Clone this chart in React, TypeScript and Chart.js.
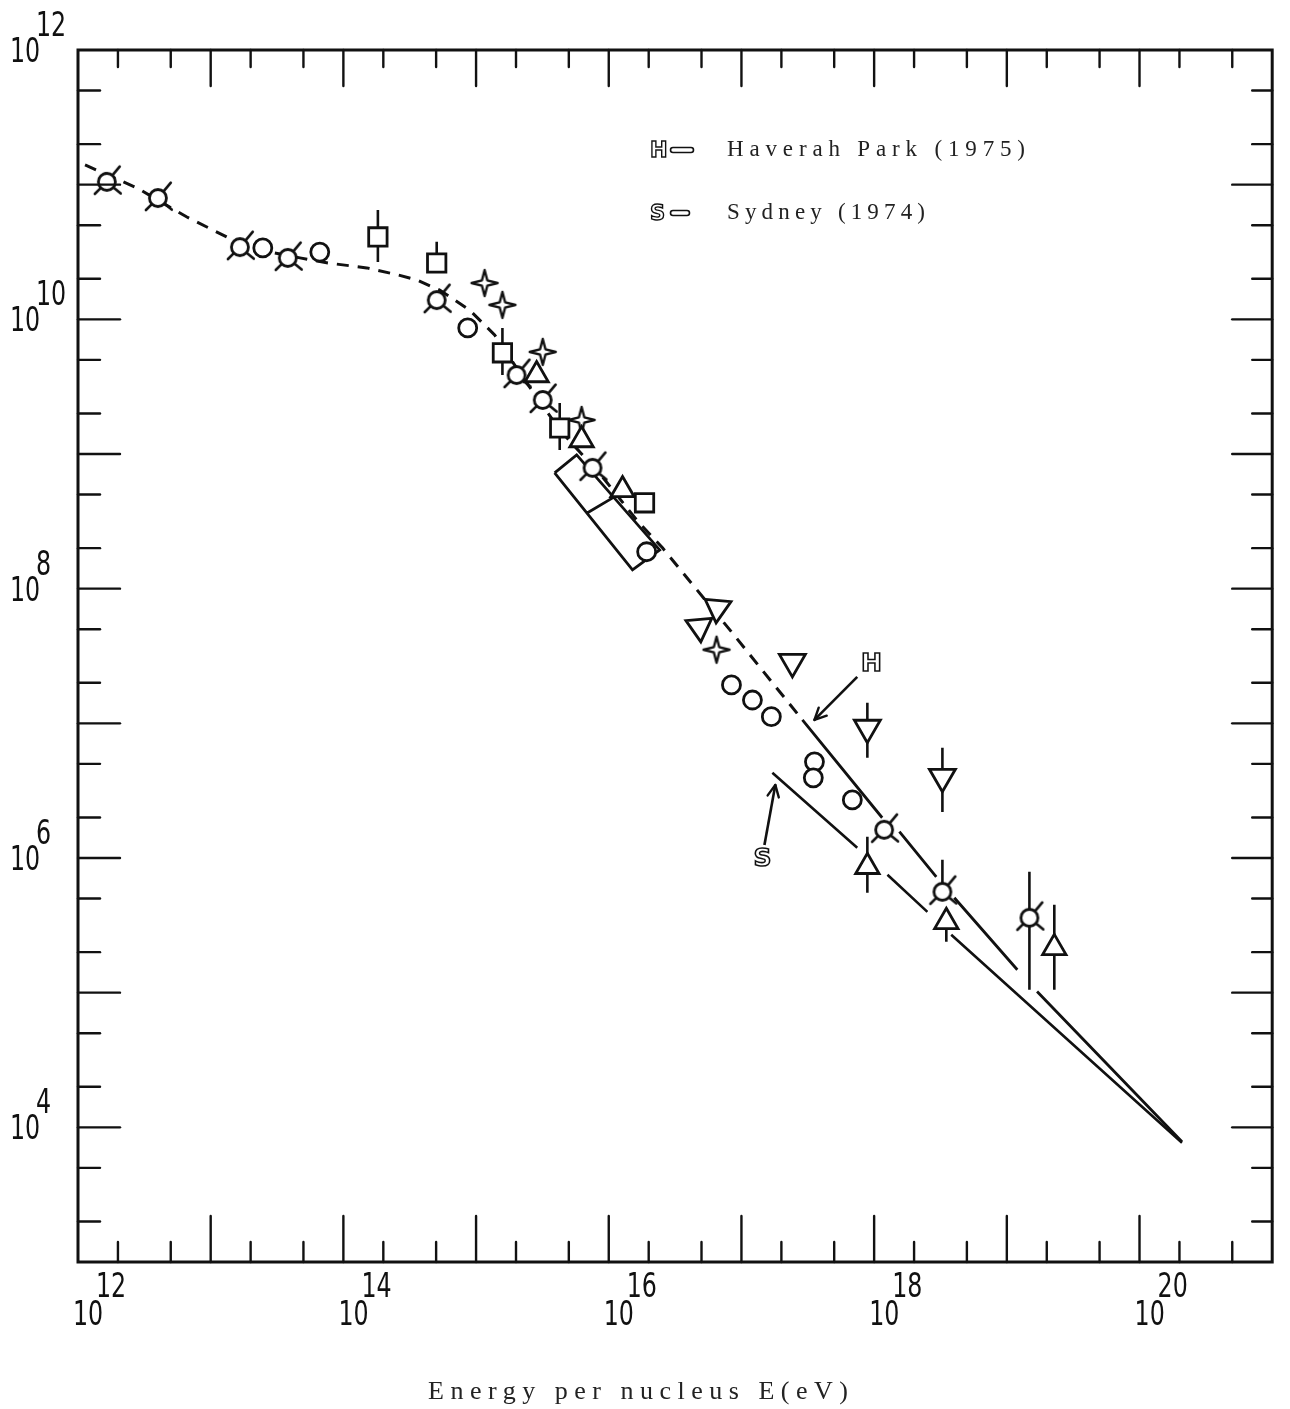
import React, { useEffect, useRef } from 'react';
import { Chart, registerables } from 'chart.js';

Chart.register(...registerables);

// ---------- axes ----------
const X_MIN = 1e12;
const X_MAX = 1e21;
const Y_MIN = 1e3;
const Y_MAX = 1e12;
const xLabelExponents = [12, 14, 16, 18, 20];
const yLabelExponents = [4, 6, 8, 10, 12];
const minorMultipliers = [2, 5];
const xTitle = 'Energy per nucleus E(eV)';
const legendHaverah = 'Haverah Park (1975)';
const legendSydney = 'Sydney (1974)';

// ---------- data (energy in eV, ordinate value) ----------
const spikedCircleE = [1.65e12, 4.0e12, 1.66e13, 3.81e13, 5.05e14, 2.02e15, 3.18e15, 7.55e15, 1.19e18, 3.27e18, 1.48e19];
const spikedCircleF = [1.05e11, 7.96e10, 3.44e10, 2.86e10, 1.39e10, 3.86e9, 2.52e9, 7.89e8, 1.62e6, 5.61e5, 3.6e5];

const plainCircleE = [2.47e13, 6.64e13, 8.65e14, 1.93e16, 8.41e16, 1.21e17, 1.68e17, 3.55e17, 3.48e17, 6.85e17];
const plainCircleF = [3.39e10, 3.16e10, 8.63e9, 1.88e8, 1.93e7, 1.49e7, 1.12e7, 5.18e6, 3.94e6, 2.7e6];

const squareE = [1.82e14, 5.05e14, 1.58e15, 4.27e15, 1.86e16];
const squareF = [4.09e10, 2.62e10, 5.64e9, 1.56e9, 4.34e8];

const triUpE = [2.86e15, 6.24e15, 1.27e16, 8.89e17, 3.5e18, 2.28e19];
const triUpF = [3.86e9, 1.27e9, 5.41e8, 8.61e5, 3.36e5, 2.15e5];

const triDownE = [4.83e16, 6.59e16, 2.42e17, 8.89e17, 3.27e18];
const triDownF = [5.2e7, 7.19e7, 2.86e7, 9.27e6, 4.01e6];
const triDownRotation = [175, 185, 180, 180, 180];

const starE = [1.16e15, 1.58e15, 3.18e15, 6.24e15, 6.49e16];
const starF = [1.86e10, 1.28e10, 5.73e9, 1.79e9, 3.52e7];

const errBarE = [1.82e14, 5.05e14, 1.58e15, 4.27e15, 8.89e17, 3.27e18, 8.89e17, 3.27e18, 3.5e18, 1.48e19, 2.28e19];
const errBarLow = [2.67e10, 2.62e10, 3.86e9, 1.07e9, 5.55e6, 2.2e6, 5.52e5, 5.61e5, 2.39e5, 1.05e5, 1.05e5];
const errBarHigh = [6.49e10, 3.76e10, 8.63e9, 2.39e9, 1.42e7, 6.58e6, 1.44e6, 9.7e5, 3.36e5, 7.91e5, 4.5e5];

// dashed fit curve
const dashedE = [1.13e12, 2.78e12, 6.62e12, 1.32e13, 2.34e13, 4.7e13, 7.64e13, 1.5e14, 2.57e14, 3.57e14, 5.32e14, 8.95e14, 1.38e15, 2.32e15, 4.27e15, 8.97e15, 1.62e16, 2.54e16, 4.43e16, 8.41e16, 1.49e17, 2.88e17];
const dashedF = [1.4e11, 9.46e10, 5.75e10, 4.09e10, 3.27e10, 2.86e10, 2.62e10, 2.41e10, 2.14e10, 1.96e10, 1.65e10, 1.17e10, 7.66e9, 3.55e9, 1.51e9, 6.76e8, 3.24e8, 2.01e8, 1.03e8, 4.78e7, 2.37e7, 1.06e7];

// Haverah Park (H) and Sydney (S) spectra, null = break in the pen line
const haverahE = [2.88e17, 1.15e18, null, 1.55e18, 2.94e18, null, 4.02e18, 1.2e19, null, 1.69e19, 2.09e20];
const haverahF = [1.06e7, 1.99e6, null, 1.57e6, 7.24e5, null, 5.07e5, 1.48e5, null, 1.02e5, 7.82e3];
const sydneyE = [1.71e17, 7.46e17, null, 1.26e18, 2.52e18, null, 3.81e18, 2.09e20];
const sydneyF = [4.29e6, 1.19e6, null, 7.5e5, 3.98e5, null, 2.69e5, 7.69e3];

// band (box) of one experiment
const boxE = [3.91e15, 5.73e15, 2.42e16, 1.51e16, 3.91e15, null, 6.92e15, 1.07e16];
const boxF = [7.24e8, 9.84e8, 1.94e8, 1.38e8, 7.24e8, null, 3.66e8, 4.72e8];

// annotation pointers
const hPointerE = [7.46e17, 3.55e17];
const hPointerF = [2.21e7, 1.06e7];
const sPointerE = [1.49e17, 1.8e17];
const sPointerF = [1.25e6, 3.49e6];
const hLabelAt = [9.53e17, 2.72e7];
const sLabelAt = [1.44e17, 9.7e5];

const INK = '#111';

const pts = (xs: (number | null)[], ys: (number | null)[]) =>
  xs.map((x, i) => ({ x, y: ys[i] }));

function makeSpikedCircle(): HTMLCanvasElement {
  const c = document.createElement('canvas');
  c.width = 46;
  c.height = 46;
  const g = c.getContext('2d')!;
  g.translate(23, 23);
  g.strokeStyle = INK;
  g.fillStyle = '#fff';
  g.lineWidth = 2.6;
  g.lineCap = 'round';
  const spikes: [number, number][] = [[-50, 20], [40, 18], [135, 17]];
  for (const [deg, len] of spikes) {
    const r = (deg * Math.PI) / 180;
    g.beginPath();
    g.moveTo(Math.cos(r) * 8, Math.sin(r) * 8);
    g.lineTo(Math.cos(r) * len, Math.sin(r) * len);
    g.stroke();
  }
  g.lineWidth = 2.8;
  g.beginPath();
  g.arc(0, 0, 8.5, 0, Math.PI * 2);
  g.fill();
  g.stroke();
  return c;
}

function makeStar(): HTMLCanvasElement {
  const c = document.createElement('canvas');
  c.width = 34;
  c.height = 34;
  const g = c.getContext('2d')!;
  g.translate(17, 17);
  g.strokeStyle = INK;
  g.fillStyle = '#fff';
  g.lineWidth = 2.4;
  g.lineJoin = 'round';
  g.beginPath();
  for (let i = 0; i < 8; i++) {
    const a = ((-90 + i * 45) * Math.PI) / 180;
    const r = i % 2 === 0 ? 13 : 3.8;
    const px = Math.cos(a) * r;
    const py = Math.sin(a) * r;
    if (i === 0) g.moveTo(px, py);
    else g.lineTo(px, py);
  }
  g.closePath();
  g.fill();
  g.stroke();
  return c;
}

function drawNarrow(ctx: CanvasRenderingContext2D, text: string, x: number, y: number) {
  ctx.save();
  ctx.translate(x, y);
  ctx.scale(0.72, 1);
  ctx.textAlign = 'left';
  ctx.textBaseline = 'alphabetic';
  ctx.fillText(text, 0, 0);
  ctx.restore();
}

function spacedText(ctx: CanvasRenderingContext2D, text: string, x: number, y: number, width: number) {
  (ctx as any).letterSpacing = '0px';
  const natural = ctx.measureText(text).width;
  const sp = Math.max(0, (width - natural) / (text.length - 1));
  (ctx as any).letterSpacing = sp + 'px';
  ctx.textAlign = 'left';
  ctx.fillText(text, x, y);
  (ctx as any).letterSpacing = '0px';
}

function hollowDash(ctx: CanvasRenderingContext2D, x: number, y: number, w: number) {
  ctx.save();
  ctx.lineWidth = 1.6;
  ctx.strokeStyle = INK;
  ctx.beginPath();
  ctx.moveTo(x + 2, y - 2.5);
  ctx.lineTo(x + w - 2, y - 2.5);
  ctx.arc(x + w - 2, y, 2.5, -Math.PI / 2, Math.PI / 2);
  ctx.lineTo(x + 2, y + 2.5);
  ctx.arc(x + 2, y, 2.5, Math.PI / 2, (3 * Math.PI) / 2);
  ctx.stroke();
  ctx.restore();
}

const decorPlugin = {
  id: 'decor',
  afterDraw(chart: any) {
    const { ctx, chartArea: a, scales } = chart;
    const xs = scales.x;
    const ys = scales.y;
    const seg = (x1: number, y1: number, x2: number, y2: number) => {
      ctx.beginPath();
      ctx.moveTo(x1, y1);
      ctx.lineTo(x2, y2);
      ctx.stroke();
    };
    ctx.save();
    ctx.strokeStyle = INK;
    ctx.fillStyle = INK;
    ctx.lineCap = 'round';

    // ticks
    ctx.lineWidth = 2.4;
    const xLo = Math.floor(Math.log10(xs.min));
    const xHi = Math.ceil(Math.log10(xs.max));
    for (let d = xLo; d <= xHi; d++) {
      for (const m of [1, ...minorMultipliers]) {
        const v = m * Math.pow(10, d);
        if (v <= xs.min * 1.001 || v >= xs.max * 0.999) continue;
        const px = xs.getPixelForValue(v);
        const major = m === 1;
        seg(px, a.bottom, px, a.bottom - (major ? 46 : 20));
        seg(px, a.top, px, a.top + (major ? 36 : 17));
      }
    }
    const yLo = Math.floor(Math.log10(ys.min));
    const yHi = Math.ceil(Math.log10(ys.max));
    for (let d = yLo; d <= yHi; d++) {
      for (const m of [1, ...minorMultipliers]) {
        const v = m * Math.pow(10, d);
        if (v <= ys.min * 1.001 || v >= ys.max * 0.999) continue;
        const py = ys.getPixelForValue(v);
        const major = m === 1;
        seg(a.left, py, a.left + (major ? 42 : 22), py);
        seg(a.right, py, a.right - (major ? 40 : 20), py);
      }
    }

    // frame
    ctx.lineWidth = 3;
    ctx.lineCap = 'butt';
    ctx.strokeRect(a.left, a.top, a.right - a.left, a.bottom - a.top);

    // tick labels
    ctx.font = '33px "DejaVu Sans", sans-serif';
    for (const e of xLabelExponents) {
      const px = xs.getPixelForValue(Math.pow(10, e));
      drawNarrow(ctx, '10', px - 5, a.bottom + 63);
      drawNarrow(ctx, String(e), px + 18, a.bottom + 35);
    }
    for (const e of yLabelExponents) {
      const py = ys.getPixelForValue(Math.pow(10, e));
      drawNarrow(ctx, '10', 10, py + 12);
      drawNarrow(ctx, String(e), 36, py - 14);
    }

    // axis title
    ctx.fillStyle = '#222';
    ctx.font = '26px "Liberation Serif", "DejaVu Serif", serif';
    ctx.textBaseline = 'alphabetic';
    spacedText(ctx, xTitle, 428, a.bottom + 137, 420);

    // legend
    ctx.font = '23px "Liberation Serif", "DejaVu Serif", serif';
    spacedText(ctx, legendHaverah, 727, 156, 298);
    spacedText(ctx, legendSydney, 727, 219, 198);
    ctx.fillStyle = INK;
    ctx.save();
    ctx.font = 'bold 21px "DejaVu Sans", sans-serif';
    ctx.lineWidth = 1.4;
    ctx.textAlign = 'left';
    ctx.strokeText('H', 650, 157);
    ctx.strokeText('S', 650, 220);
    ctx.restore();
    hollowDash(ctx, 671, 150, 22);
    hollowDash(ctx, 671, 213, 18);

    // annotation letters H, S
    ctx.save();
    ctx.font = 'bold 25px "DejaVu Sans", sans-serif';
    ctx.lineWidth = 1.6;
    ctx.textAlign = 'center';
    ctx.textBaseline = 'middle';
    ctx.strokeText('H', xs.getPixelForValue(hLabelAt[0]), ys.getPixelForValue(hLabelAt[1]));
    ctx.strokeText('S', xs.getPixelForValue(sLabelAt[0]), ys.getPixelForValue(sLabelAt[1]));
    ctx.restore();

    // arrowheads on pointers
    ctx.lineWidth = 2.4;
    ctx.lineCap = 'round';
    const arrow = (e: number[], f: number[]) => {
      const x0 = xs.getPixelForValue(e[0]);
      const y0 = ys.getPixelForValue(f[0]);
      const x1 = xs.getPixelForValue(e[1]);
      const y1 = ys.getPixelForValue(f[1]);
      const ang = Math.atan2(y1 - y0, x1 - x0);
      for (const s of [-1, 1]) {
        const b = ang + Math.PI + s * 0.45;
        seg(x1, y1, x1 + Math.cos(b) * 13, y1 + Math.sin(b) * 13);
      }
    };
    arrow(hPointerE, hPointerF);
    arrow(sPointerE, sPointerF);
    ctx.restore();
  },
};

export default function App() {
  const ref = useRef<HTMLCanvasElement | null>(null);

  useEffect(() => {
    if (!ref.current) return;
    const spiked = makeSpikedCircle();
    const star = makeStar();

    const errData: { x: number | null; y: number | null }[] = [];
    errBarE.forEach((e, i) => {
      errData.push({ x: e, y: errBarLow[i] }, { x: e, y: errBarHigh[i] }, { x: null, y: null });
    });

    const pointBase = {
      showLine: false,
      borderColor: INK,
      backgroundColor: '#fff',
      borderWidth: 2.8,
    };
    const lineBase = {
      showLine: true,
      pointRadius: 0,
      borderColor: INK,
      backgroundColor: INK,
      fill: false,
      spanGaps: false,
      tension: 0,
    };

    const chart = new Chart(ref.current, {
      type: 'scatter',
      data: {
        datasets: [
          { ...pointBase, label: 'spiked circles', data: pts(spikedCircleE, spikedCircleF), pointStyle: spiked as any, pointRadius: 10 },
          { ...pointBase, label: 'circles', data: pts(plainCircleE, plainCircleF), pointStyle: 'circle', pointRadius: 9 },
          { ...pointBase, label: 'squares', data: pts(squareE, squareF), pointStyle: 'rect', pointRadius: 13 },
          { ...pointBase, label: 'triangles up', data: pts(triUpE, triUpF), pointStyle: 'triangle', pointRadius: 13.5 },
          { ...pointBase, label: 'triangles down', data: pts(triDownE, triDownF), pointStyle: 'triangle', pointRadius: 15, rotation: triDownRotation as any },
          { ...pointBase, label: 'stars', data: pts(starE, starF), pointStyle: star as any, pointRadius: 12 },
          { ...lineBase, label: 'error bars', data: errData as any, borderWidth: 2.6 },
          { ...lineBase, label: 'box', data: pts(boxE, boxF) as any, borderWidth: 2.8 },
          { ...lineBase, label: 'H pointer', data: pts(hPointerE, hPointerF) as any, borderWidth: 2.6 },
          { ...lineBase, label: 'S pointer', data: pts(sPointerE, sPointerF) as any, borderWidth: 2.6 },
          { ...lineBase, label: 'Haverah Park', data: pts(haverahE, haverahF) as any, borderWidth: 2.8 },
          { ...lineBase, label: 'Sydney', data: pts(sydneyE, sydneyF) as any, borderWidth: 2.6 },
          { ...lineBase, label: 'fit', data: pts(dashedE, dashedF) as any, borderWidth: 3, borderDash: [12, 9] },
        ] as any,
      },
      options: {
        responsive: false,
        animation: false,
        devicePixelRatio: 1,
        events: [],
        layout: { padding: { left: 78, right: 17, top: 50, bottom: 147 } },
        plugins: { legend: { display: false }, tooltip: { enabled: false } },
        scales: {
          x: { type: 'logarithmic', min: X_MIN, max: X_MAX, display: false },
          y: { type: 'logarithmic', min: Y_MIN, max: Y_MAX, display: false },
        },
      } as any,
      plugins: [decorPlugin as any],
    });
    return () => chart.destroy();
  }, []);

  return (
    <div style={{ position: 'absolute', left: 0, top: 0, width: 1290, height: 1409, background: '#fff' }}>
      <canvas ref={ref} width={1290} height={1409} style={{ display: 'block' }} />
    </div>
  );
}
